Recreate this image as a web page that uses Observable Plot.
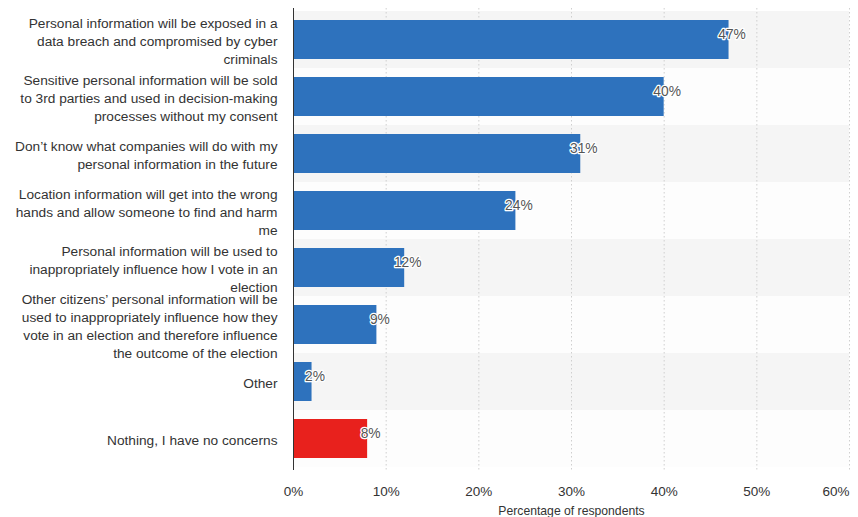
<!DOCTYPE html>
<html>
<head>
<meta charset="utf-8">
<script src="https://cdn.jsdelivr.net/npm/d3@7"></script>
<script src="https://cdn.jsdelivr.net/npm/@observablehq/plot@0.6"></script>
<style>
  html, body { margin: 0; padding: 0; background: #ffffff; }
  #chart svg { display: block; }
</style>
</head>
<body>
<div id="chart"></div>
<script>
const categories = [
  "Personal information will be exposed in a\ndata breach and compromised by cyber\ncriminals",
  "Sensitive personal information will be sold\nto 3rd parties and used in decision-making\nprocesses without my consent",
  "Don’t know what companies will do with my\npersonal information in the future",
  "Location information will get into the wrong\nhands and allow someone to find and harm\nme",
  "Personal information will be used to\ninappropriately influence how I vote in an\nelection",
  "Other citizens’ personal information will be\nused to inappropriately influence how they\nvote in an election and therefore influence\nthe outcome of the election",
  "Other",
  "Nothing, I have no concerns"
];
const values = [47, 40, 31, 24, 12, 9, 2, 8];
const highlight = [false, false, false, false, false, false, false, true];
const tickValues = [0, 10, 20, 30, 40, 50, 60];
const xLabel = "Percentage of respondents";

const data = categories.map((c, i) => ({category: c, value: values[i], hi: highlight[i], idx: i}));
const font = "'Liberation Sans', Arial, Helvetica, sans-serif";

const chart = Plot.plot({
  width: 858,
  height: 517,
  marginLeft: 293,
  marginRight: 9,
  marginTop: 8,
  marginBottom: 47,
  style: {fontFamily: font, fontSize: "13px", color: "#333", background: "#ffffff"},
  x: {domain: [0, 60], ticks: tickValues, axis: null},
  y: {domain: categories, paddingInner: 0, paddingOuter: 0, axis: null},
  marks: [
    Plot.barX(data, {x1: 0, x2: 60, y: "category", fill: d => d.idx % 2 === 0 ? "#f5f5f5" : "#fdfdfd", insetTop: 0, insetBottom: 0}),
    Plot.gridX(tickValues.slice(1), {stroke: "#cfcfcf", strokeOpacity: 1, strokeDasharray: "1.5,2.5"}),
    Plot.barX(data, {x: "value", y: "category", fill: d => d.hi ? "#e8211d" : "#2e72bd", insetTop: 9, insetBottom: 9}),
    Plot.ruleX([0], {stroke: "#333", strokeWidth: 1}),
    Plot.text(data, {x: "value", y: "category", text: d => d.value + "%", textAnchor: "middle", dx: 3, dy: -5, fontSize: 13.8, fill: "#555", stroke: "white", strokeWidth: 2.5}),
    Plot.text(data, {x: 0, y: "category", text: "category", textAnchor: "end", dx: -16, lineHeight: 1.31, fontSize: 13.7, fill: "#333"}),
    Plot.axisX(tickValues.slice(0, -1), {tickSize: 0, tickPadding: 16, tickFormat: d => d + "%", fontSize: 13.5, fill: "#333", label: null}),
    Plot.axisX(tickValues.slice(-1), {tickSize: 0, tickPadding: 16, tickFormat: d => d + "%", fontSize: 13.5, fill: "#333", textAnchor: "end", label: null}),
    Plot.text([xLabel], {frameAnchor: "bottom", dy: 44, text: d => d, fontSize: 12.2, fill: "#333"})
  ]
});
document.getElementById("chart").appendChild(chart);
</script>
</body>
</html>
